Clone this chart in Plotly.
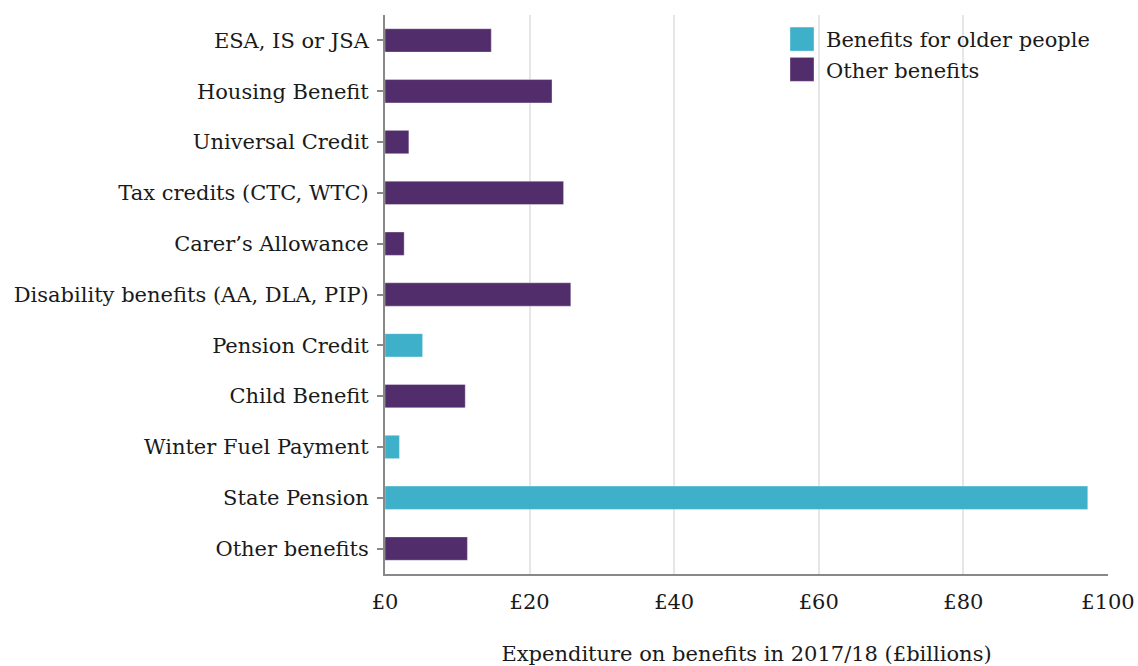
import plotly.graph_objects as go

categories = ["ESA, IS or JSA", "Housing Benefit", "Universal Credit", "Tax credits (CTC, WTC)",
              "Carer’s Allowance", "Disability benefits (AA, DLA, PIP)", "Pension Credit",
              "Child Benefit", "Winter Fuel Payment", "State Pension", "Other benefits"]
values = [14.7, 23.1, 3.3, 24.7, 2.65, 25.7, 5.2, 11.1, 2.0, 97.2, 11.4]
groups = ["Other", "Other", "Other", "Other", "Other", "Other", "Older",
          "Other", "Older", "Older", "Other"]
x_ticks = [0, 20, 40, 60, 80, 100]
x_tick_labels = ["£0", "£20", "£40", "£60", "£80", "£100"]

TEAL = "#3fb0c9"
PURPLE = "#522d6b"
FONT = "DejaVu Serif"

fig = go.Figure()
for key, name, color in [("Older", "Benefits for older people", TEAL), ("Other", "Other benefits", PURPLE)]:
    ys = [c for c, g in zip(categories, groups) if g == key]
    xs = [v for v, g in zip(values, groups) if g == key]
    fig.add_trace(go.Bar(
        x=xs, y=ys, orientation="h", name=name,
        marker=dict(color=color, line=dict(color="rgba(255,255,255,0.35)", width=1)),
        width=0.46,
    ))

fig.update_layout(
    width=1138, height=666,
    margin=dict(l=385, r=30, t=15, b=92, autoexpand=False),
    plot_bgcolor="white", paper_bgcolor="white",
    barmode="overlay",
    font=dict(family=FONT, size=21, color="#1a1a1a"),
    legend=dict(x=0.5546, y=0.993, xanchor="left", yanchor="top",
                font=dict(size=21), bgcolor="rgba(255,255,255,0)",
                tracegroupgap=0),
    showlegend=True,
)
fig.update_yaxes(
    categoryorder="array", categoryarray=categories[::-1],
    range=[-0.5, len(categories) - 0.5], automargin=False,
    showline=True, linecolor="#888888", linewidth=2,
    ticks="outside", ticklen=6, tickwidth=2, tickcolor="#888888",
    showgrid=False, ticklabelstandoff=4,
)
fig.update_xaxes(
    range=[0, 100], tickvals=x_ticks, ticktext=x_tick_labels, automargin=False,
    showline=True, linecolor="#888888", linewidth=2,
    showgrid=True, gridcolor="#e6e6e6", gridwidth=2,
    zeroline=False, ticks="", ticklabelstandoff=8,
    title=dict(text="Expenditure on benefits in 2017/18 (£billions)", standoff=34, font=dict(size=21)),
)

post = (
    "document.body.style.margin='0px';"
    "document.querySelectorAll('.legendpoints path').forEach(function(p){"
    "p.setAttribute('d','M8,12H-16V-12H8Z');});"
)
fig.write_html("out.html", post_script=post, config={"displayModeBar": False})
